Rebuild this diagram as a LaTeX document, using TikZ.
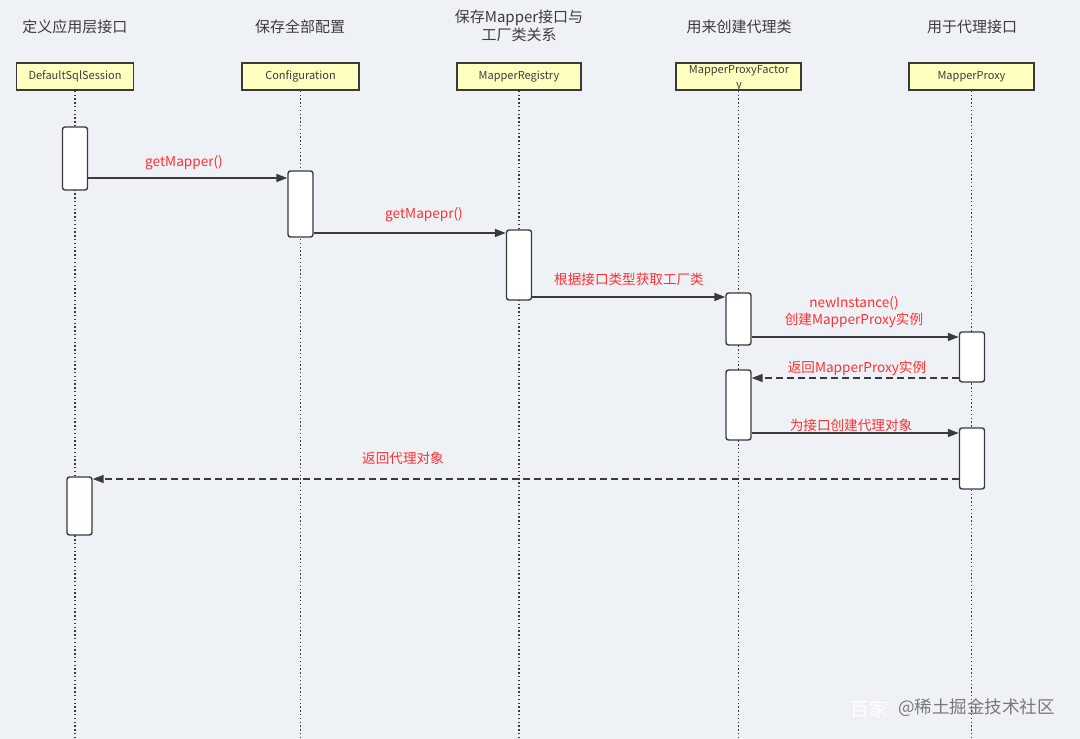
\documentclass[tikz,border=0pt]{standalone}
\usepackage{fontspec}
\setmainfont{Noto Sans CJK SC}
\usetikzlibrary{arrows.meta}
\definecolor{bg}{RGB}{238,242,247}
\definecolor{ln}{RGB}{58,58,58}
\definecolor{txt}{RGB}{60,60,60}
\definecolor{rd}{RGB}{255,48,48}
\definecolor{boxy}{RGB}{255,255,192}
\definecolor{wm}{RGB}{120,120,120}
\begin{document}
\begin{tikzpicture}[x=1pt,y=-1pt,
  head/.style={font=\fontsize{15}{18}\selectfont, text=txt, align=center, inner sep=0},
  actor/.style={draw=ln, line width=1.5pt, fill=boxy, minimum width=117pt, minimum height=27pt, inner sep=0, font=\fontsize{11}{13}\selectfont, text=txt},
  act/.style={draw=ln, line width=1.4pt, fill=white, rounded corners=2.5pt, minimum width=25pt, inner sep=0},
  life/.style={draw=ln, line width=1.4pt, dash pattern=on 1.4pt off 2.4pt},
  msg/.style={draw=ln, line width=1.5pt, -{Triangle[length=11pt,width=8pt]}},
  ret/.style={msg, dash pattern=on 7pt off 4pt},
  lab/.style={font=\fontsize{13.6}{17}\selectfont, text=rd, align=center, inner sep=0}
]
\useasboundingbox[fill=bg] (0,0) rectangle (1080,739);

% headers
\node[head] (h1) at (75,27) {定义应用层接口};
\node[head] (h2) at (300,27) {保存全部配置};
\node[head] (h3) at (519,26) {保存Mapper接口与\\工厂类关系};
\node[head] (h4) at (739,27) {用来创建代理类};
\node[head] (h5) at (972,27) {用于代理接口};

% actors
\node[actor] (ds) at (75,76.5) {DefaultSqlSession};
\node[actor] (cf) at (300.5,76.5) {Configuration};
\node[actor, minimum width=124pt] (mr) at (519,76.5) {MapperRegistry};
\node[actor, minimum width=125pt] (pf) at (738.5,76.5) {};
\node[font=\fontsize{11}{15}\selectfont, text=txt, align=center, inner sep=0] (pft) at (739,78.5) {MapperProxyFactor\\y};
\node[actor, minimum width=125pt] (mp) at (971.5,76.5) {MapperProxy};

% lifelines
\draw[life] (ds.south) -- (ds.south |- 0,739);
\draw[life] (cf.south) -- (cf.south |- 0,739);
\draw[life] (mr.south) -- (mr.south |- 0,739);
\draw[life] (pf.south) -- (pf.south |- 0,739);
\draw[life] (mp.south) -- (mp.south |- 0,739);

% activations
\node[act, minimum height=63pt] (a1) at (75,158.5) {};
\node[act, minimum height=66pt] (a2) at (300.5,204) {};
\node[act, minimum height=70pt] (a3) at (519,265) {};
\node[act, minimum height=52pt] (a4) at (738.5,319) {};
\node[act, minimum height=50pt] (a5) at (972,357) {};
\node[act, minimum height=70pt] (a6) at (738.5,405) {};
\node[act, minimum height=61pt] (a7) at (972,458.5) {};
\node[act, minimum height=58pt] (a8) at (79.5,506) {};

% messages
\draw[msg] (a1.east |- 0,178) -- (a2.west |- 0,178);
\node[lab] (l1) at (184,163) {getMapper()};
\draw[msg] (a2.east |- 0,233) -- (a3.west |- 0,233);
\node[lab] (l2) at (424,215) {getMapepr()};
\draw[msg] (a3.east |- 0,297) -- (a4.west |- 0,297);
\node[lab] (l3) at (629,279) {根据接口类型获取工厂类};
\draw[msg] (a4.east |- 0,337) -- (a5.west |- 0,337);
\node[lab] (l4) at (854,312) {newInstance()\\创建MapperProxy实例};
\draw[ret] (a5.west |- 0,378) -- (a6.east |- 0,378);
\node[lab] (l5) at (857,368) {返回MapperProxy实例};
\draw[msg] (a6.east |- 0,433) -- (a7.west |- 0,433);
\node[lab] (l6) at (851,425) {为接口创建代理对象};
\draw[ret] (a7.west |- 0,479) -- (a8.east |- 0,479);
\node[lab] (l7) at (403,458) {返回代理对象};

% watermark
\node[font=\fontsize{19}{22}\selectfont, text=white, inner sep=0, anchor=west] (w1) at (850,709) {百家};
\node[font=\fontsize{17.5}{20}\selectfont, text=wm, inner sep=0, anchor=west] (w2) at (898,708) {@稀土掘金技术社区};
\end{tikzpicture}
\end{document}
